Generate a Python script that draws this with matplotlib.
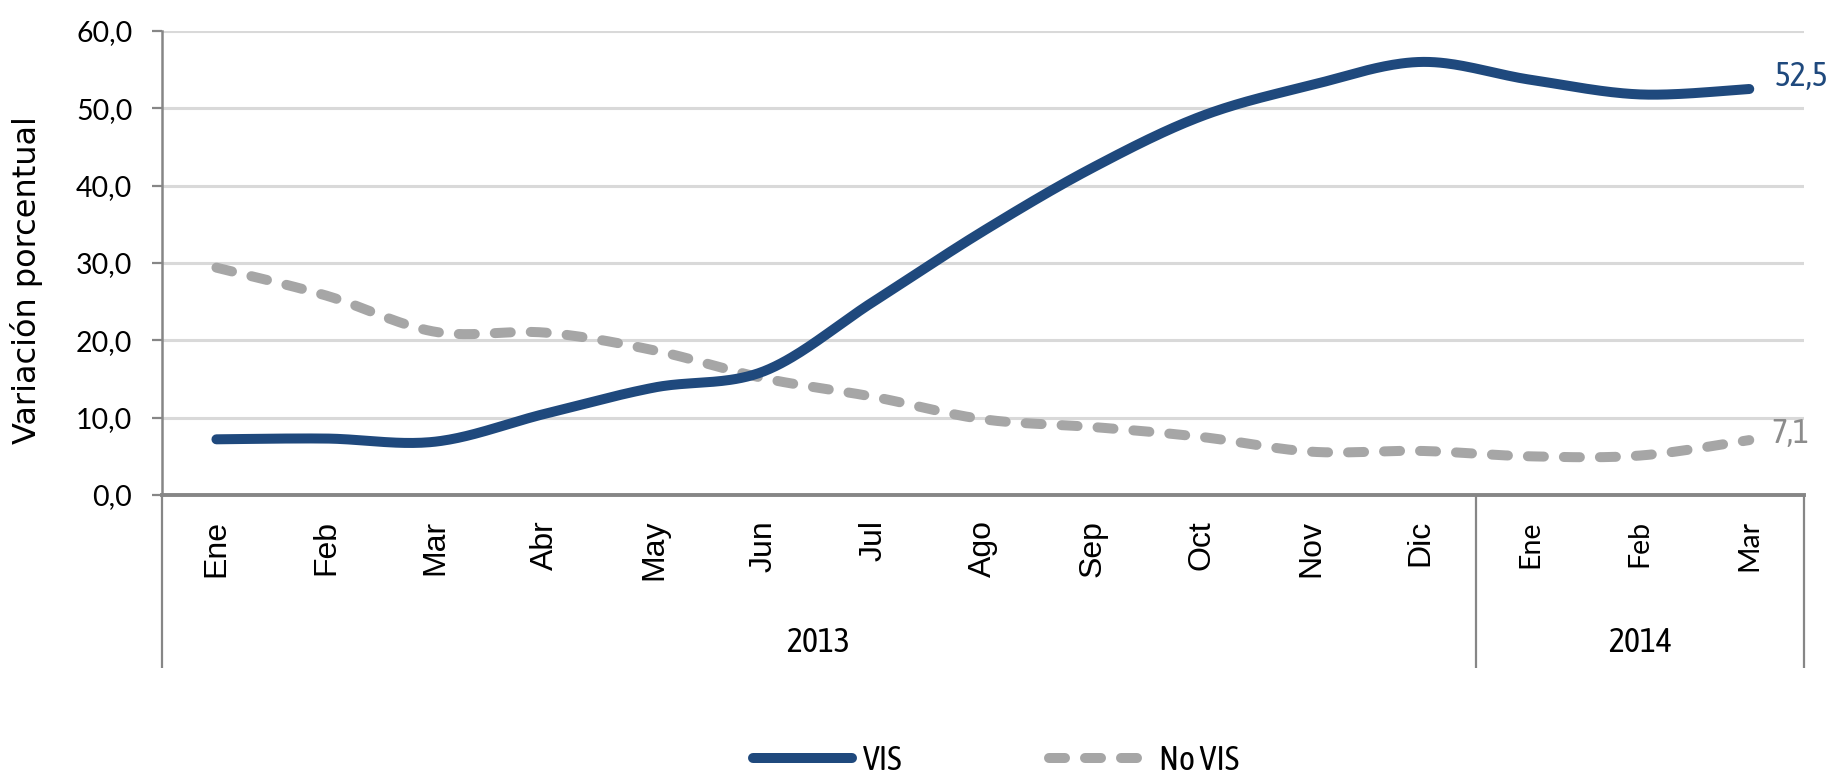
import numpy as np
import matplotlib
matplotlib.use("Agg")
import matplotlib.pyplot as plt
from matplotlib import font_manager
import matplotlib.transforms as mtransforms

# ---------------- data ----------------
months = ["Ene", "Feb", "Mar", "Abr", "May", "Jun", "Jul", "Ago", "Sep", "Oct", "Nov", "Dic",
          "Ene", "Feb", "Mar"]
years = ["2013", "2014"]
year_counts = [12, 3]
vis = [7.2, 7.3, 6.9, 10.5, 13.9, 16.0, 25.0, 34.1, 42.3, 49.0, 53.0, 56.0, 53.7, 51.8, 52.5]
no_vis = [29.4, 25.8, 21.1, 21.0, 18.7, 15.1, 12.7, 9.8, 8.8, 7.5, 5.6, 5.7, 5.0, 5.1, 7.1]
yticks = [0, 10, 20, 30, 40, 50, 60]

# ---------------- fonts ----------------
names = {f.name for f in font_manager.fontManager.ttflist}
NARROW = "Lato"
for c in ["Asap Condensed", "Archivo Narrow", "Liberation Sans Narrow"]:
    if c in names:
        NARROW = c
        break
HUMAN = "Lato"
ARIAL = "Liberation Sans"

BLUE = "#1F497D"
GRAY = "#A6A6A6"
AXC = "#868686"


def smooth(y, n=40):
    """Catmull-Rom (Excel-like) smoothing through the data points."""
    y = np.asarray(y, float)
    x = np.arange(len(y), dtype=float)
    P = np.column_stack([x, y])
    out = []
    t = np.linspace(0, 1, n)[:, None]
    for i in range(len(P) - 1):
        p0 = P[max(i - 1, 0)]
        p1 = P[i]
        p2 = P[i + 1]
        p3 = P[min(i + 2, len(P) - 1)]
        c1 = p1 + (p2 - p0) / 6.0
        c2 = p2 - (p3 - p1) / 6.0
        seg = ((1 - t) ** 3) * p1 + 3 * ((1 - t) ** 2) * t * c1 + 3 * (1 - t) * t ** 2 * c2 + t ** 3 * p2
        out.append(seg if i == 0 else seg[1:])
    s = np.vstack(out)
    return s[:, 0], s[:, 1]


fig = plt.figure(figsize=(18.35, 7.75), dpi=100)
W, H = 1835, 775
ax_l, ax_r, ax_t, ax_b = 161.7, 1804, 31, 495
ax = fig.add_axes([ax_l / W, 1 - ax_b / H, (ax_r - ax_l) / W, (ax_b - ax_t) / H])

ax.set_xlim(-0.5, len(months) - 0.5)
ax.set_ylim(0, 60)

# grid
ax.set_yticks(yticks)
ax.set_yticklabels([f"{v:.1f}".replace(".", ",") for v in yticks], fontfamily=HUMAN, fontsize=20.5)
ax.yaxis.grid(True, color="#D9D9D9", linewidth=2.2, zorder=0)
ax.set_axisbelow(True)
ax.tick_params(axis="y", length=7.2, width=1.6, color=AXC, pad=14)

# spines
for s in ["top", "right"]:
    ax.spines[s].set_visible(False)
ax.spines["left"].set_color(AXC)
ax.spines["left"].set_linewidth(1.8)
ax.spines["bottom"].set_color(AXC)
ax.spines["bottom"].set_linewidth(2.8)

# lines
xs, ys = smooth(vis)
ax.plot(xs, ys, color=BLUE, linewidth=7.2, solid_capstyle="round", label="VIS", zorder=3)
xs2, ys2 = smooth(no_vis)
ax.plot(xs2, ys2, color=GRAY, linewidth=7.2, linestyle=(0, (1.6, 2.0)),
        dash_capstyle="round", label="No VIS", zorder=2)

# data labels on last point
ax.annotate(f"{vis[-1]:.1f}".replace(".", ","), xy=(len(vis) - 1, vis[-1]), xytext=(18, 9),
            textcoords="offset points", ha="left", va="center", color=BLUE,
            fontfamily=NARROW, fontweight="normal", fontsize=24.5)
ax.annotate(f"{no_vis[-1]:.1f}".replace(".", ","), xy=(len(no_vis) - 1, no_vis[-1]), xytext=(16, 5),
            textcoords="offset points", ha="left", va="center", color="#8C8C8C",
            fontfamily=NARROW, fontweight="normal", fontsize=24.5)

# month tick labels
ax.set_xticks(range(len(months)))
ax.set_xticklabels(months, rotation=90)
ax.tick_params(axis="x", length=0, pad=18)
for i, lab in enumerate(ax.get_xticklabels()):
    if i < year_counts[0]:
        lab.set_fontfamily(ARIAL)
        lab.set_fontsize(23)
    else:
        lab.set_fontfamily(HUMAN)
        lab.set_fontsize(20.5)

# multi-level category axis: separators and year labels
trans = mtransforms.blended_transform_factory(ax.transData, ax.transAxes)
y_low = (ax_b - 668) / (ax_b - ax_t)
bounds = [-0.5]
for c in year_counts:
    bounds.append(bounds[-1] + c)
for b in bounds:
    ax.plot([b, b], [0, y_low], transform=trans, color=AXC, linewidth=1.6, clip_on=False,
            solid_capstyle="butt")
y_year = (ax_b - 643) / (ax_b - ax_t)
for yr, a, b in zip(years, bounds[:-1], bounds[1:]):
    ax.text((a + b) / 2, y_year, yr, transform=trans, ha="center", va="center",
            fontfamily=NARROW, fontweight="normal", fontsize=24.5)

# y label
fig.text(27 / W, 1 - 280 / H, "Variación porcentual", rotation=90, ha="center", va="center",
         fontfamily="DejaVu Sans", fontsize=23)

# legend
leg_size = 24.5
leg = fig.legend(loc="center", bbox_to_anchor=(996 / W, 1 - 760 / H), ncol=2, frameon=False,
                 prop={"family": NARROW, "weight": "normal", "size": leg_size},
                 handlelength=99 / (leg_size * 100 / 72), handletextpad=0.33,
                 columnspacing=4.3, borderaxespad=0, borderpad=0)

fig.savefig("out.png", dpi=100)
